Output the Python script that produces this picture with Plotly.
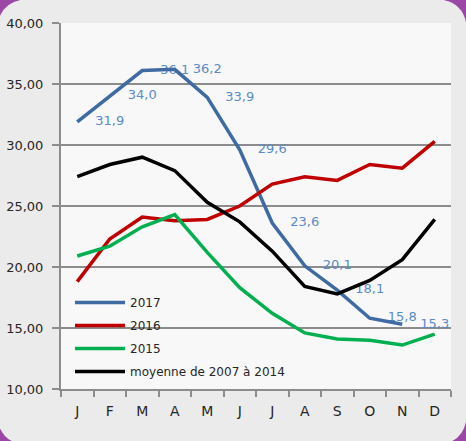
import plotly.graph_objects as go

months = ["J", "F", "M", "A", "M", "J", "J", "A", "S", "O", "N", "D"]
s2017 = [31.9, 34.0, 36.1, 36.2, 33.9, 29.6, 23.6, 20.1, 18.1, 15.8, 15.3]
s2016 = [18.8, 22.3, 24.1, 23.8, 23.9, 25.0, 26.8, 27.4, 27.1, 28.4, 28.1, 30.3]
s2015 = [20.9, 21.7, 23.3, 24.3, 21.2, 18.3, 16.2, 14.6, 14.1, 14.0, 13.6, 14.5]
smoy = [27.4, 28.4, 29.0, 27.9, 25.3, 23.7, 21.3, 18.4, 17.8, 18.9, 20.6, 23.9]
names = ["2017", "2016", "2015", "moyenne de 2007 à 2014"]
colors = ["#3f6aa2", "#c00000", "#00b050", "#000000"]

W, H = 466, 441
ML, MR, MT, MB = 61, 15, 23, 52
PW, PH = W - ML - MR, H - MT - MB


def px(x):
    return (x - ML) / PW


def py(y):
    return (H - MB - y) / PH


def rounded(x0, y0, x1, y1, r):
    # pixel coords (top-left origin) -> paper path with rounded corners
    pts = []
    pts.append(f"M{px(x0 + r)},{py(y0)}")
    pts.append(f"L{px(x1 - r)},{py(y0)}")
    pts.append(f"Q{px(x1)},{py(y0)} {px(x1)},{py(y0 + r)}")
    pts.append(f"L{px(x1)},{py(y1 - r)}")
    pts.append(f"Q{px(x1)},{py(y1)} {px(x1 - r)},{py(y1)}")
    pts.append(f"L{px(x0 + r)},{py(y1)}")
    pts.append(f"Q{px(x0)},{py(y1)} {px(x0)},{py(y1 - r)}")
    pts.append(f"L{px(x0)},{py(y0 + r)}")
    pts.append(f"Q{px(x0)},{py(y0)} {px(x0 + r)},{py(y0)}")
    pts.append("Z")
    return " ".join(pts)


xidx = list(range(len(months)))
fig = go.Figure()

# data labels for 2017 (drawn first so lines pass over them)
fig.add_trace(go.Scatter(
    x=xidx[1:len(s2017) + 1], y=s2017,
    text=[f"{v:.1f}".replace(".", ",") for v in s2017],
    mode="text", textposition="middle center",
    textfont=dict(family="DejaVu Sans", size=13, color="#5b8bc9"),
    showlegend=False, hoverinfo="skip"))

for i, (name, vals, col) in enumerate(zip(names, [s2017, s2016, s2015, smoy], colors)):
    fig.add_trace(go.Scatter(
        x=xidx[:len(vals)], y=vals, name=name, mode="lines",
        legendgroup=f"g{i}",
        line=dict(color=col, width=3.5)))

shapes = [
    dict(type="path", xref="paper", yref="paper", layer="below",
         path=rounded(-3, -1, W + 1, H + 4, 34),
         fillcolor="#ebebeb", line=dict(width=0)),
    dict(type="rect", xref="paper", yref="paper", layer="below",
         x0=0, x1=1, y0=0, y1=1, fillcolor="#f8f8f8", line=dict(width=0)),
]

fig.update_layout(
    template="none",
    width=W, height=H,
    margin=dict(l=ML, r=MR, t=MT, b=MB, pad=0, autoexpand=False),
    paper_bgcolor="#9b47a6",
    plot_bgcolor="rgba(0,0,0,0)",
    separators=", ",
    font=dict(family="DejaVu Sans", color="#262626"),
    shapes=shapes,
    showlegend=True,
    legend=dict(x=px(70), y=py(288), xanchor="left", yanchor="top",
                bgcolor="rgba(0,0,0,0)", borderwidth=0,
                font=dict(size=12, color="#262626"),
                itemwidth=50, tracegroupgap=4),
    xaxis=dict(range=[-0.5, 11.5], tickvals=xidx, ticktext=months,
               automargin=False,
               ticks="", showgrid=False, zeroline=False,
               showline=True, linecolor="#8c8c8c", linewidth=2,
               tickfont=dict(size=14, color="#262626"),
               ticklabelstandoff=8,
               minor=dict(tickvals=[i - 0.5 for i in range(13)], ticks="outside",
                          ticklen=6, tickcolor="#8c8c8c", tickwidth=1.5,
                          showgrid=False)),
    yaxis=dict(range=[10, 40], dtick=5, tickformat=".2f", automargin=False,
               ticks="outside", ticklen=7, tickcolor="#8c8c8c", tickwidth=1.5,
               showgrid=True, gridcolor="#8c8c8c", gridwidth=1.5,
               ticklabelstandoff=6,
               zeroline=False, showline=True, linecolor="#8c8c8c", linewidth=2,
               tickfont=dict(size=13, color="#262626")),
)

fig.write_html("out.html",
               config={"displayModeBar": False},
               post_script="document.body.style.margin='0';"
                           "document.body.style.overflow='hidden';")
